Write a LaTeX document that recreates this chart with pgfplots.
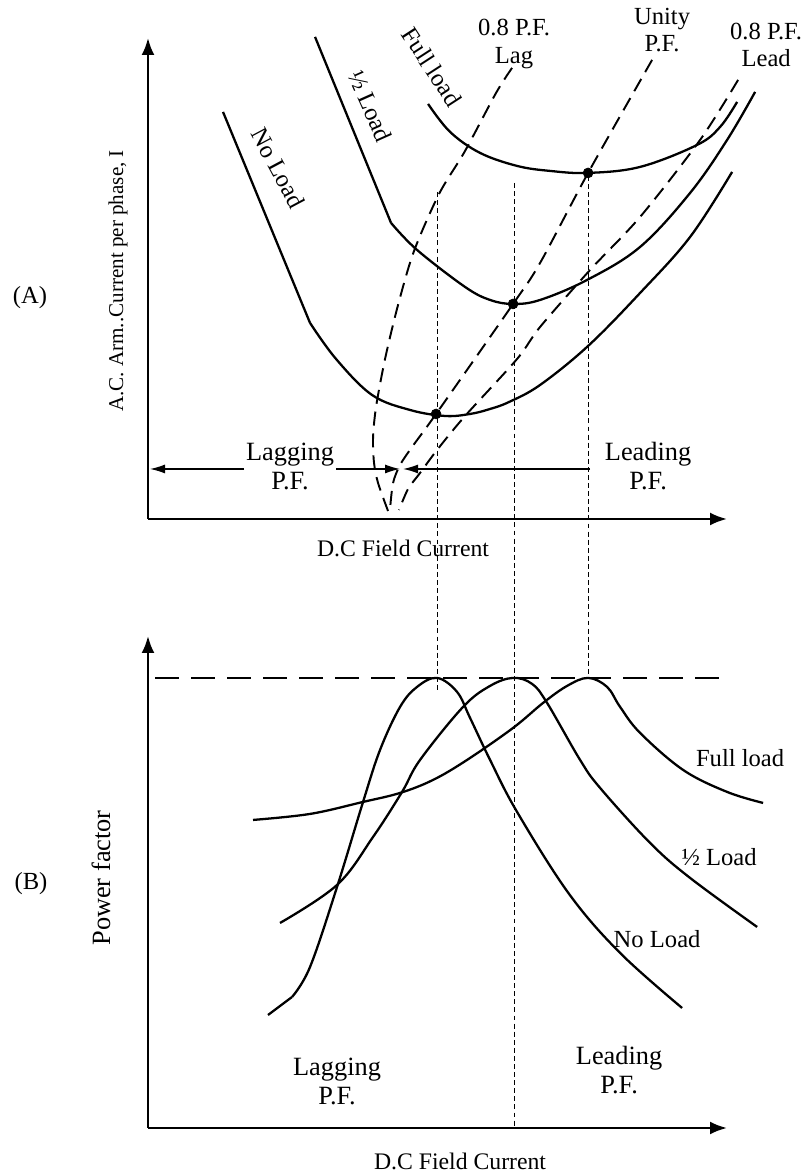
\documentclass[border=0pt]{standalone}
\usepackage{fontspec}
\setmainfont{Liberation Serif}
\usepackage{pgfplots}
\pgfplotsset{compat=1.18}
\usetikzlibrary{arrows.meta}

\tikzset{
  lbl/.style={font=\fontsize{14}{15.5}\selectfont, align=center, inner sep=0pt},
  big/.style={font=\fontsize{15}{16.5}\selectfont, align=center, inner sep=0pt},
  crv/.style={black, line width=1.3pt},
  pfline/.style={black, line width=1.1pt, dash pattern=on 8pt off 4.5pt},
  guide/.style={black, line width=0.6pt, dash pattern=on 2.8pt off 1.8pt},
  harr/.style={line width=0.7pt, -{Latex[length=0.3cm,width=0.18cm]}},
}
% one axis unit = one pixel of the reference (0.02 cm)
\pgfplotsset{panel/.style={
  x=0.02cm, y=0.02cm, xmin=148, xmax=727,
  axis lines=left,
  axis line style={line width=1.6pt, -{Latex[length=0.34cm,width=0.26cm]}},
  xtick=\empty, ytick=\empty, clip=false, enlargelimits=false,
  anchor=south west}}

\begin{document}
\begin{tikzpicture}
\useasboundingbox (0,0) rectangle (16.14,23.46);

% ---------------- (A) V-curves ----------------
\begin{axis}[panel, at={(2.96cm,13.08cm)}, ymin=654, ymax=1135]
% no load
\addplot[crv] coordinates {(223,1061) (310,850)};
\addplot[crv, smooth, tension=0.6] coordinates {
  (310,850) (336,814) (372,778) (410,763) (445,757) (470,759) (490,764)
  (509,771) (540,788) (588,827) (640,880) (690,936) (732,1001)};
% half load
\addplot[crv] coordinates {(315,1136) (391,950)};
\addplot[crv, smooth, tension=0.6] coordinates {
  (391,950) (417,923) (465,886) (490,873) (513,869) (540,873) (587,893)
  (640,926) (690,980) (727,1033) (755,1081)};
% full load
\addplot[crv, smooth, tension=0.6] coordinates {
  (428,1069) (450,1041) (480,1020) (517,1007) (550,1002) (588,1000)
  (640,1006) (697,1028) (720,1046) (737,1071)};
% power factor loci
\addplot[pfline, smooth, tension=0.5] coordinates {
  (512,1105) (496,1080) (465,1022) (439,979) (414,922) (398,868) (385,814)
  (376,766) (373,735) (374,710) (378,690) (388,662)};
\addplot[pfline, smooth, tension=0.5] coordinates {
  (652,1113) (588,1000) (540,910) (513,869) (436,759) (412,726) (400,708)
  (393,690) (390,664)};
\addplot[pfline, smooth, tension=0.5] coordinates {
  (738,1093) (700,1033) (640,956) (590,903) (540,846) (517,814) (465,757)
  (437,723) (420,700) (408,684) (399,663)};
% minima
\addplot[only marks, mark=*, mark size=2.8pt, black] coordinates {
  (436,759) (513,869) (588,1000)};
% guide lines down to (B)
\addplot[guide] coordinates {(437,981) (437,480)};
\addplot[guide] coordinates {(514,990) (514,45)};
\addplot[guide] coordinates {(588,997) (588,496)};
% lagging / leading arrows
\draw[harr] (axis cs:244,704) -- (axis cs:150,704);
\draw[harr] (axis cs:336,704) -- (axis cs:400,704);
\draw[harr] (axis cs:590,704) -- (axis cs:403,704);

\node[lbl] at (axis cs:30,875) {(A)};
\node[font=\fontsize{12}{13}\selectfont, rotate=90] at (axis cs:118,892)
  {A.C. Arm..Current per phase, I};
\node[lbl, rotate=-62] at (axis cs:278,1005) {No Load};
\node[lbl, rotate=-66] at (axis cs:370,1067) {½ Load};
\node[lbl, rotate=-57] at (axis cs:432,1106) {Full load};
\node[lbl] at (axis cs:514,1129) {0.8 P.F.\\Lag};
\node[lbl] at (axis cs:662,1143) {Unity\\P.F.};
\node[lbl] at (axis cs:766,1128) {0.8 P.F.\\Lead};
\node[big] at (axis cs:290,707) {Lagging\\P.F.};
\node[big] at (axis cs:648,707) {Leading\\P.F.};
\node[font=\fontsize{13.5}{15}\selectfont] at (axis cs:403,625) {D.C Field Current};
\end{axis}

% ---------------- (B) power factor ----------------
\begin{axis}[panel, at={(2.96cm,0.9cm)}, ymin=45, ymax=537]
\addplot[black, line width=1.2pt, dash pattern=on 13.5pt off 7pt]
  coordinates {(155,495) (726,495)};
% no load
\addplot[crv] coordinates {(268,158) (292,176)};
\addplot[crv, smooth, tension=0.6] coordinates {
  (292,176) (310,206) (337,286) (363,371) (380,423) (400,466) (417,486)
  (437,495) (457,481) (470,455) (490,413) (517,361) (569,279) (620,220) (682,165)};
% half load
\addplot[crv, smooth, tension=0.6] coordinates {
  (280,250) (337,288) (373,336) (402,381) (420,413) (463,466) (490,487)
  (513,495) (532,489) (547,470) (580,413) (600,385) (650,330) (690,295) (757,246)};
% full load
\addplot[crv, smooth, tension=0.6] coordinates {
  (253,353) (310,359) (363,371) (400,380) (433,393) (467,413) (513,445)
  (543,470) (567,487) (588,495) (607,486) (620,466) (640,440) (683,403)
  (727,381) (763,370)};

\node[lbl] at (axis cs:31,289) {(B)};
\node[font=\fontsize{15}{16}\selectfont, rotate=90] at (axis cs:101,295) {Power factor};
\node[lbl] at (axis cs:740,415) {Full load};
\node[lbl] at (axis cs:719,316) {½ Load};
\node[lbl] at (axis cs:657,234) {No Load};
\node[big] at (axis cs:337,92) {Lagging\\P.F.};
\node[big] at (axis cs:619,103) {Leading\\P.F.};
\node[font=\fontsize{13.5}{15}\selectfont] at (axis cs:460,12) {D.C Field Current};
\end{axis}
\end{tikzpicture}
\end{document}
